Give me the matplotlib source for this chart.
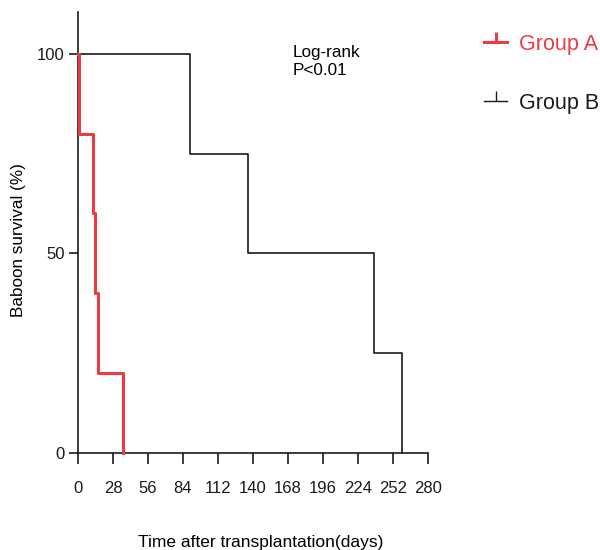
import matplotlib
matplotlib.use("Agg")
import matplotlib.pyplot as plt
from matplotlib.lines import Line2D

plt.rcParams['font.family'] = ['Liberation Sans', 'DejaVu Sans']

# Data (Kaplan-Meier steps)
group_a_days = [0, 1, 12, 14, 16, 36]
group_a_surv = [100, 80, 60, 40, 20, 0]
group_b_days = [0, 90, 136, 237, 259]
group_b_surv = [100, 75, 50, 25, 0]
x_ticks = [0, 28, 56, 84, 112, 140, 168, 196, 224, 252, 280]
y_ticks = [0, 50, 100]
labels = ["Group A", "Group B"]

red = '#ee3a43'
black = '#1a1a1a'

fig = plt.figure(figsize=(6, 5.5), dpi=100)
ax = fig.add_axes([0.13, 0.1764, 0.583, 0.802])

ax.step(group_b_days, group_b_surv, where='post', color=black, lw=1.2, clip_on=False, zorder=3)
ax.step(group_a_days, group_a_surv, where='post', color=red, lw=2.2, clip_on=False, zorder=4)

ax.set_xlim(0, 280)
ax.set_ylim(0, 110.5)
ax.set_xticks(x_ticks)
ax.set_yticks(y_ticks)
for s in ['top', 'right']:
    ax.spines[s].set_visible(False)
for s in ['left', 'bottom']:
    ax.spines[s].set_linewidth(1.2)
    ax.spines[s].set_color(black)
ax.tick_params(axis='x', direction='out', length=8, width=1.2, pad=12, labelsize=12, colors=black)
ax.tick_params(axis='y', direction='out', length=6.5, width=1.2, pad=3, labelsize=12, colors=black)

ax.set_xlabel("Time after transplantation(days)", fontsize=12.5)
ax.set_ylabel("Baboon survival (%)", fontsize=12.3)
ax.xaxis.set_label_coords(0.523, -0.186)
ax.yaxis.set_label_coords(-0.15, 0.482)

ax.text(172, 102.3, "Log-rank\nP<0.01", fontsize=12.3, va='top', ha='left', linespacing=1.3)

handles = [Line2D([], [], color=red, lw=2.2, marker=2, markersize=7, mew=2.2),
           Line2D([], [], color=black, lw=1.0, marker=2, markersize=7, mew=1.0)]
fig.legend(handles, labels, loc='upper left', bbox_to_anchor=(0.774, 0.9736),
           frameon=False, fontsize=15.5, handlelength=1.1, handletextpad=0.53,
           labelspacing=1.75, labelcolor=[red, black])

fig.savefig("out.png", dpi=100)
